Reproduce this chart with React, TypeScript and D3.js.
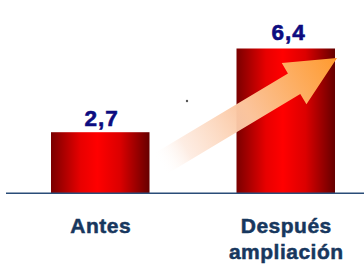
import React from "react";
import * as d3 from "d3";

const categories = ["Antes", "Después ampliación"];
const categoryLines = [["Antes"], ["Después", "ampliación"]];
const values = [2.7, 6.4];
const valueLabels = ["2,7", "6,4"];

const W = 364;
const H = 267;

export default function App() {
  const x = d3.scaleBand<string>().domain(categories).range([51, 335]).paddingInner(0.469).paddingOuter(0);
  const y = d3.scaleLinear().domain([0, 6.4]).range([193.3, 48.5]);
  const bw = x.bandwidth();

  // arrow from right of first bar towards top-right of second bar
  const tail: [number, number] = [x(categories[0])! + bw + 10, y(1.28)];
  const tip: [number, number] = [x(categories[1])! + bw + 2, y(6.4) + 9.5];
  const dx = tip[0] - tail[0];
  const dy = tip[1] - tail[1];
  const len = Math.sqrt(dx * dx + dy * dy);
  const ang = (Math.atan2(dy, dx) * 180) / Math.PI;
  const sh = 12, hh = 24, hl = 50;
  const arrowPts: [number, number][] = [
    [0, -sh], [len - hl, -sh], [len - hl, -hh], [len, 0], [len - hl, hh], [len - hl, sh], [0, sh],
  ];
  const line = d3.line();

  return (
    <svg width={W} height={H} style={{ position: "absolute", left: 0, top: 0 }}>
      <defs>
        <linearGradient id="barGrad" x1="0" x2="1" y1="0" y2="0">
          <stop offset="0" stopColor="#7a0000" />
          <stop offset="0.3" stopColor="#e80000" />
          <stop offset="0.47" stopColor="#ff0000" />
          <stop offset="0.7" stopColor="#dc0000" />
          <stop offset="1" stopColor="#660000" />
        </linearGradient>
        <linearGradient id="arrGrad" gradientUnits="userSpaceOnUse" x1="0" y1="0" x2={len} y2="0">
          <stop offset="0" stopColor="#ffffff" stopOpacity="0" />
          <stop offset="0.15" stopColor="#fde8dc" stopOpacity="0.8" />
          <stop offset="0.5" stopColor="#fbc49c" />
          <stop offset="1" stopColor="#ff9a2e" />
        </linearGradient>
      </defs>
      <rect width={W} height={H} fill="#ffffff" />
      {categories.map((c, i) => (
        <rect key={c} x={x(c)} y={y(values[i])} width={bw} height={y(0) - y(values[i])} fill="url(#barGrad)" />
      ))}
      <line x1={6} x2={W} y1={y(0)} y2={y(0)} stroke="#2a4d78" strokeWidth={1.6} />
      <g transform={`translate(${tail[0]},${tail[1]}) rotate(${ang})`}>
        <path d={line(arrowPts)! + "Z"} fill="url(#arrGrad)" />
      </g>
      <circle cx={187} cy={101} r={1.2} fill="#555" />
      {categories.map((c, i) => (
        <text
          key={c + "v"}
          x={x(c)! + bw / 2 + (i === 1 ? 3 : 1.5)}
          y={y(values[i]) - (i === 1 ? 9 : 6.5)}
          textAnchor="middle"
          fontFamily="Liberation Sans, Arial, sans-serif"
          fontWeight="bold"
          fontSize={22.5}
          letterSpacing={1}
          fill="#0c0c80"
          stroke="#0c0c80"
          strokeWidth={0.6}
        >
          {valueLabels[i]}
        </text>
      ))}
      {categories.map((c, i) => (
        <text
          key={c + "l"}
          textAnchor="middle"
          fontFamily="Liberation Sans, Arial, sans-serif"
          fontWeight="bold"
          fontSize={21}
          letterSpacing={0.5}
          fill="#17375e"
          stroke="#17375e"
          strokeWidth={0.5}
        >
          {categoryLines[i].map((t, j) => (
            <tspan key={t} x={x(c)! + bw / 2 + 0.5} y={233 + j * 25.5}>
              {t}
            </tspan>
          ))}
        </text>
      ))}
    </svg>
  );
}
